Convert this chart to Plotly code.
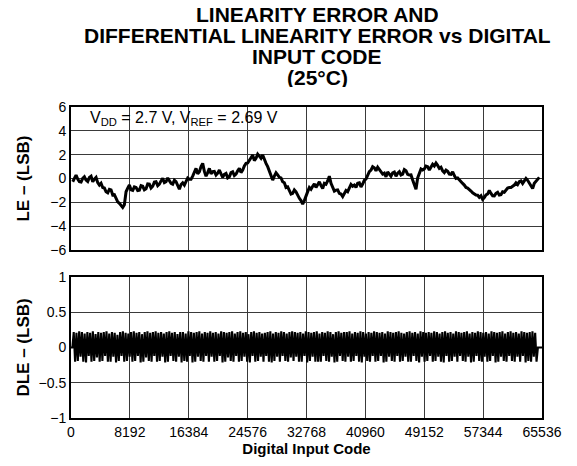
import numpy as np
import plotly.graph_objects as go
from plotly.subplots import make_subplots

# ---- data ----
x_ticks = [0, 8192, 16384, 24576, 32768, 40960, 49152, 57344, 65536]
le_first_code = 240
le_last_code = 65160
le_values = [
    -0.27, 0.05, 0.29, -0.05, -0.27, -0.30, 0.01, 0.15, -0.13, -0.25, 0.10, 0.20, -0.27, -0.05, 0.10, -0.35, -0.55, -0.40, -0.75,
    -0.80, -1.11, -1.20, -0.90, -0.95, -1.38, -1.35, -1.66, -1.95, -2.08, -2.30, -2.42, -2.20, -1.11, -0.80, -0.55, -0.95, -1.00, -0.70, -0.75,
    -1.00, -0.97, -0.60, -0.65, -0.95, -0.86, -0.45, -0.47, -0.80, -0.65, -0.30, -0.27, -0.60, -0.47, -0.20, 0.01, -0.35, -0.27, 0.05, -0.13,
    -0.40, -0.47, -0.15, -0.27, -0.60, -0.90, -0.50, -0.36, -0.55, -0.27, 0.05, -0.05, -0.05, 0.20, 0.60, 0.85, 0.40, 0.57, 1.00, 1.27,
    0.60, 0.20, 0.50, 0.85, 0.40, 0.57, 0.60, 0.29, 0.45, 0.71, 0.40, 0.10, 0.35, 0.43, 0.05, 0.15, 0.50, 0.57, 0.25, 0.37,
    0.65, 0.85, 0.50, 0.71, 1.05, 1.27, 1.30, 1.60, 1.75, 1.97, 1.50, 1.69, 2.05, 1.88, 1.70, 1.97, 1.55, 1.27, 1.00, 0.65,
    0.20, -0.13, 0.20, 0.48, 0.30, 0.10, 0.05, -0.27, -0.35, -0.75, -0.70, -1.00, -1.30, -1.24, -0.95, -1.11, -1.45, -1.66, -1.85, -2.14,
    -1.85, -1.38, -1.10, -0.75,
    -0.90,
    -0.65, -0.45, -0.75, -0.50, -0.27, -0.60, -0.83, -0.40, -0.47, -0.20, 0.20, -0.40, -0.75, -1.05, -0.97, -0.95, -1.24, -1.30, -1.52,
    -1.25, -1.00, -1.10, -0.83, -0.50, -0.65, -0.55, -0.75, -0.40, -0.36, -0.70, -0.47, -0.15, -0.05, 0.25, 0.57, 0.70, 0.99, 0.90, 0.65,
    0.95, 0.78, 0.55, 0.37, 0.45, 0.15, 0.55, 0.37, 0.20, 0.48, 0.55, 0.20, 0.45, 0.57, 0.30, 0.37, 0.75, 0.65, 0.35, 0.29,
    0.30, -0.13, -0.55, -0.90, 0.05, 0.37, 0.80, 0.71, 0.80, 1.05, 1.00, 0.71, 1.00, 1.20, 1.05, 1.30, 1.10, 0.85, 0.95, 0.65,
    0.50, 0.71, 0.60, 0.37, 0.35, 0.57, 0.25, 0.01, 0.05, -0.13, -0.30, -0.41, -0.55, -0.75, -0.80, -0.97, -1.05, -1.20, -1.30, -1.38,
    -1.40, -1.58, -1.45, -1.75, -1.60, -1.38, -1.30, -1.00, -1.25, -1.44, -1.45, -1.24, -1.15, -1.38, -1.35, -1.11, -1.15, -0.97, -0.80, -0.75,
    -0.75, -0.65, -0.55, -0.36, -0.50, -0.27, -0.20, -0.41, -0.15, 0.01, -0.15, -0.41, -0.70, -0.83, -0.40, -0.20, -0.05, 0.10,
]
dle_values = [
    0.0, 0.0,
    0.22, -0.20, 0.21, -0.19, 0.23, -0.13, 0.22, -0.20, 0.20, -0.21, 0.22, -0.12, 0.21, -0.20, 0.23, -0.19, 0.19, -0.14, 0.22, -0.20,
    0.21, -0.19, 0.22, -0.12, 0.23, -0.20, 0.20, -0.20, 0.22, -0.13, 0.21, -0.21, 0.18, -0.19, 0.22, -0.12, 0.23, -0.20, 0.21, -0.19,
    0.20, -0.13, 0.22, -0.20, 0.23, -0.19, 0.21, -0.12, 0.22, -0.21, 0.19, -0.20, 0.22, -0.14, 0.23, -0.19, 0.21, -0.20, 0.22, -0.12,
    0.23, -0.20, 0.21, -0.19, 0.22, -0.13, 0.20, -0.21, 0.22, -0.20, 0.23, -0.12, 0.21, -0.19, 0.22, -0.20, 0.19, -0.13, 0.22, -0.21,
    0.22, -0.19, 0.20, -0.20, 0.23, -0.12, 0.22, -0.21, 0.21, -0.20, 0.22, -0.13, 0.23, -0.19, 0.20, -0.20, 0.22, -0.12, 0.21, -0.20,
    0.23, -0.13, 0.21, -0.20, 0.22, -0.19, 0.20, -0.12, 0.23, -0.21, 0.22, -0.20, 0.21, -0.14, 0.22, -0.19, 0.23, -0.20, 0.20, -0.12,
    0.22, -0.20, 0.23, -0.19, 0.21, -0.13, 0.22, -0.20, 0.19, -0.21, 0.22, -0.12, 0.23, -0.20, 0.21, -0.19, 0.22, -0.13, 0.20, -0.20,
    0.21, -0.12, 0.22, -0.20, 0.23, -0.21, 0.20, -0.19, 0.22, -0.13, 0.21, -0.20, 0.23, -0.12, 0.22, -0.19, 0.20, -0.20, 0.22, -0.14,
    0.23, -0.19, 0.22, -0.13, 0.21, -0.20, 0.22, -0.20, 0.20, -0.12, 0.23, -0.21, 0.22, -0.19, 0.21, -0.13, 0.22, -0.20, 0.23, -0.20,
    0.20, -0.20, 0.22, -0.12, 0.21, -0.19, 0.23, -0.20, 0.22, -0.13, 0.19, -0.21, 0.22, -0.20, 0.23, -0.12, 0.21, -0.19, 0.22, -0.20,
    0.22, -0.13, 0.23, -0.20, 0.20, -0.19, 0.22, -0.12, 0.21, -0.20, 0.23, -0.21, 0.22, -0.13, 0.20, -0.19, 0.22, -0.20, 0.21, -0.12,
    0.23, -0.20, 0.22, -0.19, 0.21, -0.12, 0.22, -0.21, 0.20, -0.20, 0.23, -0.13, 0.22, -0.19, 0.21, -0.20, 0.22, -0.12, 0.23, -0.20,
    0.21, -0.19, 0.20, -0.13, 0.22, -0.20, 0.23, -0.20, 0.21, -0.12, 0.22, -0.19, 0.20, -0.21, 0.23, -0.13, 0.22, -0.20, 0.21, -0.19,
    0.22, -0.12, 0.21, -0.20, 0.23, -0.19, 0.22, -0.13, 0.20, -0.20, 0.22, -0.21, 0.23, -0.12, 0.21, -0.20, 0.22, -0.19, 0.20, -0.13,
    0.23, -0.20, 0.22, -0.12, 0.21, -0.19, 0.22, -0.20, 0.23, -0.13, 0.20, -0.21, 0.22, -0.20, 0.21, -0.12, 0.23, -0.19, 0.22, -0.20,
    0.21, -0.13, 0.22, -0.20, 0.20, -0.19, 0.23, -0.12, 0.22, -0.21, 0.21, -0.20, 0.22, -0.13, 0.23, -0.19, 0.20, -0.20, 0.22, -0.12,
    0.23, -0.19, 0.21, -0.20, 0.22, -0.13, 0.20, -0.20, 0.23, -0.12, 0.22, -0.21, 0.21, -0.19, 0.22, -0.20, 0.23, -0.13, 0.21, -0.20,
    0.0, 0.0, 0.0, 0.0,
]

le_codes = np.linspace(le_first_code, le_last_code, len(le_values))
dle_codes = np.linspace(0, 65535, len(dle_values))

title_lines = ["LINEARITY ERROR AND", "DIFFERENTIAL LINEARITY ERROR vs DIGITAL",
               "INPUT CODE", "(25°C)"]
note_text = "V<sub>DD</sub> = 2.7 V, V<sub>REF</sub> = 2.69 V"

FONT = "Liberation Sans, Arial, sans-serif"

fig = make_subplots(rows=2, cols=1, shared_xaxes=False, vertical_spacing=0.0)
fig.add_trace(go.Scatter(x=le_codes, y=le_values, mode="lines",
                         line=dict(color="black", width=3), showlegend=False),
              row=1, col=1)
fig.add_trace(go.Scatter(x=dle_codes, y=dle_values, mode="lines",
                         line=dict(color="black", width=2.1), showlegend=False),
              row=2, col=1)

axis_common = dict(showline=True, linecolor="black", linewidth=2, mirror=True,
                   showgrid=True, gridcolor="#3a3a3a", gridwidth=1.2,
                   zeroline=False, ticks="", tickfont=dict(family=FONT, size=14, color="black"))

fig.update_xaxes(range=[0, 65536], tickvals=x_ticks, **axis_common)
fig.update_xaxes(showticklabels=False, row=1, col=1)
fig.update_xaxes(showticklabels=True, ticktext=[str(v) for v in x_ticks],
                 title=dict(text="<b>Digital Input Code</b>", font=dict(family=FONT, size=15, color="black"), standoff=3),
                 row=2, col=1)
fig.update_yaxes(range=[-6, 6], dtick=2, **axis_common, row=1, col=1)
fig.update_yaxes(range=[-1, 1], dtick=0.5, **axis_common, row=2, col=1)

fig.update_layout(
    width=577, height=466,
    margin=dict(l=71, r=35, t=107, b=48, autoexpand=False),
    paper_bgcolor="white", plot_bgcolor="white",
    font=dict(family=FONT, color="black"),
    yaxis=dict(domain=[0.540, 1.0]),
    yaxis2=dict(domain=[0.0, 0.453]),
)

title_y_px = [14.5, 35.5, 56, 76.5]
annotations = []
for line, ypx in zip(title_lines, title_y_px):
    annotations.append(dict(text="<b>" + line + "</b>", xref="paper", yref="paper",
                            x=(317 - 71) / 471, y=(418 - ypx) / 311, showarrow=False,
                            xanchor="center", yanchor="middle", height=20, borderpad=0,
                            font=dict(family=FONT, size=21, color="black")))
annotations.append(dict(text=note_text, xref="x domain", yref="y domain", x=0.037, y=0.923,
                        showarrow=False, xanchor="left", yanchor="middle",
                        font=dict(family=FONT, size=16, color="black")))
annotations.append(dict(text="<b>LE – (LSB)</b>", xref="paper", yref="y domain", x=0, y=0.5,
                        xshift=-47, textangle=-90, showarrow=False, xanchor="center", yanchor="middle",
                        font=dict(family=FONT, size=17, color="black")))
annotations.append(dict(text="<b>DLE – (LSB)</b>", xref="paper", yref="y2 domain", x=0, y=0.5,
                        xshift=-47, textangle=-90, showarrow=False, xanchor="center", yanchor="middle",
                        font=dict(family=FONT, size=17, color="black")))
fig.update_layout(annotations=annotations)

fig.write_html("out.html", config={"displayModeBar": False},
               post_script="document.body.style.margin='0';document.body.style.padding='0';")
